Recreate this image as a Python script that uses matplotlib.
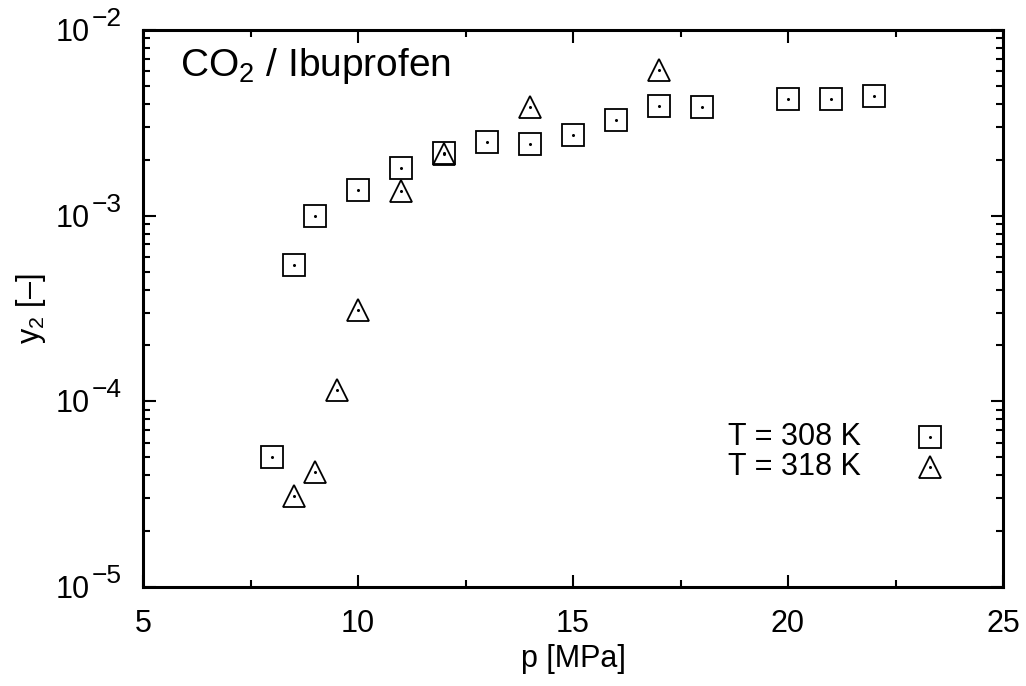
import matplotlib
matplotlib.use("Agg")
import matplotlib.pyplot as plt
from matplotlib.ticker import LogLocator, MultipleLocator, NullFormatter
from matplotlib.transforms import offset_copy

plt.rcParams["font.family"] = ["Liberation Sans", "DejaVu Sans"]
plt.rcParams["mathtext.fontset"] = "custom"
plt.rcParams["mathtext.rm"] = "Liberation Sans"
plt.rcParams["mathtext.it"] = "Liberation Sans"
plt.rcParams["mathtext.default"] = "regular"

# T = 308 K
p_308 = [8, 8.5, 9, 10, 11, 12, 13, 14, 15, 16, 17, 18, 20, 21, 22]
y_308 = [5.0e-5, 5.4e-4, 1.0e-3, 1.37e-3, 1.81e-3, 2.18e-3, 2.49e-3, 2.43e-3,
         2.72e-3, 3.28e-3, 3.9e-3, 3.85e-3, 4.25e-3, 4.25e-3, 4.4e-3]

# T = 318 K
p_318 = [8.5, 9, 9.5, 10, 11, 12, 14, 17]
y_318 = [3.1e-5, 4.15e-5, 1.15e-4, 3.1e-4, 1.36e-3, 2.15e-3, 3.85e-3, 6.1e-3]

y_exponents = [-5, -4, -3, -2]

fig = plt.figure(figsize=(10.26, 6.86), dpi=100)
ax = fig.add_axes([143 / 1026, 1 - 587 / 686, 860 / 1026, 557 / 686])

ax.plot(p_308, y_308, ls="none", marker="s", ms=16.5, mfc="none", mec="black", mew=1.3)
ax.plot(p_318, y_318, ls="none", marker="^", ms=16, mfc="none", mec="black", mew=1.3)
ax.plot(p_308 + p_318, y_308 + y_318, ls="none", marker="o", ms=1.2, color="black")

ax.set_yscale("log")
ax.set_xlim(5, 25)
ax.set_ylim(1e-5, 1e-2)

ax.xaxis.set_major_locator(MultipleLocator(5))
ax.xaxis.set_minor_locator(MultipleLocator(2.5))
ax.yaxis.set_major_locator(LogLocator(base=10))
ax.yaxis.set_minor_locator(LogLocator(base=10, subs=range(2, 10)))
ax.yaxis.set_major_formatter(NullFormatter())
ax.yaxis.set_minor_formatter(NullFormatter())

ax.tick_params(which="both", direction="in", top=True, right=True, width=1.5,
               labelsize=22, colors="black")
ax.tick_params(which="major", length=9, pad=16)
ax.tick_params(which="minor", length=5)
for s in ax.spines.values():
    s.set_linewidth(2.2)

# y tick labels in gnuplot style (large exponent)
ytr = ax.get_yaxis_transform()
for e in y_exponents:
    ax.text(-53 / 860, 10.0 ** e, "10", fontsize=22, ha="right", va="center",
            transform=offset_copy(ytr, fig=fig, x=0, y=-3, units="dots"))
    ax.text(-51 / 860, 10.0 ** e, "\u2212%d" % -e, fontsize=19, ha="left", va="center",
            transform=offset_copy(ytr, fig=fig, x=0, y=11, units="dots"))

ax.set_xlabel("p [MPa]", fontsize=22, va="center")
ax.xaxis.set_label_coords(0.5, -72 / 557)
ax.set_ylabel("y$_2$ [–]", fontsize=22, va="center")
ax.yaxis.set_label_coords(-112 / 860, 0.5)

ax.text(0.043, 0.935, "CO$_2$ / Ibuprofen", transform=ax.transAxes,
        fontsize=28, ha="left", va="center")

# legend drawn by hand to match the gnuplot key
ax.text(0.835, 0.27, "T = 308 K", transform=ax.transAxes, fontsize=22, ha="right", va="center")
ax.text(0.835, 0.215, "T = 318 K", transform=ax.transAxes, fontsize=22, ha="right", va="center")
ax.plot([0.915], [0.27], transform=ax.transAxes, marker="s", ms=16.5, mfc="none", mec="black", mew=1.3)
ax.plot([0.915], [0.215], transform=ax.transAxes, marker="^", ms=16, mfc="none", mec="black", mew=1.3)
ax.plot([0.915, 0.915], [0.27, 0.215], transform=ax.transAxes, ls="none", marker="o", ms=1.2, color="black")

fig.savefig("out.png", dpi=100)
